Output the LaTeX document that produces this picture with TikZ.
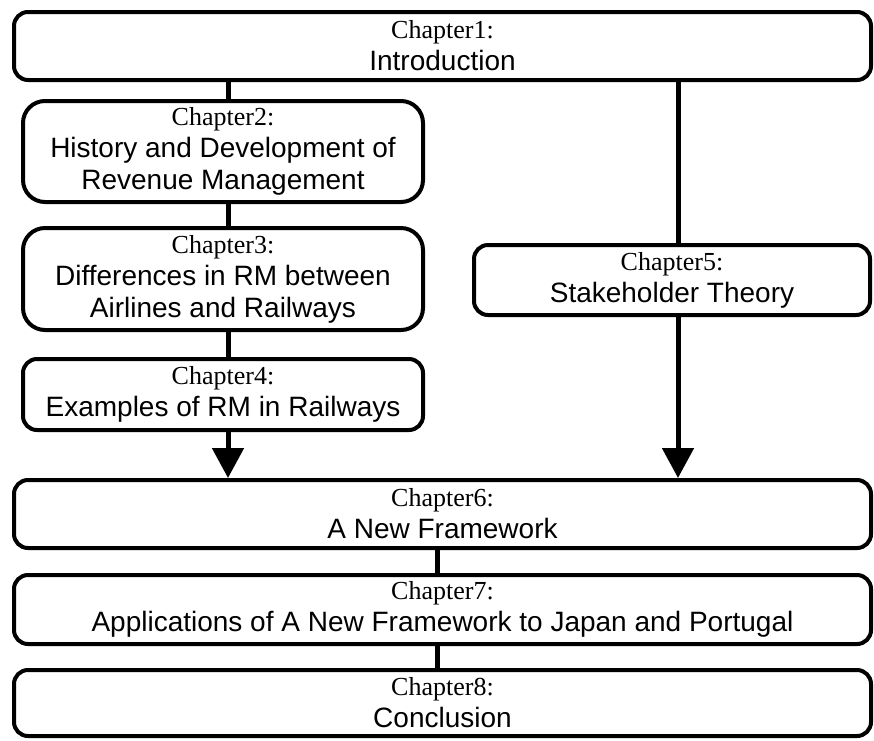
\documentclass[tikz,border=0pt]{standalone}
\usepackage{fontspec}
\setmainfont{Liberation Sans}
\newfontfamily\chapfont{Liberation Serif}
\usetikzlibrary{arrows.meta,calc}

\tikzset{
  box/.style={draw, line width=4pt, rounded corners=14pt, align=center, inner sep=0pt,
    font=\fontsize{28}{32}\selectfont},
  link/.style={line width=5pt},
  arr/.style={line width=5pt, -{Triangle[width=31pt,length=30pt]}}
}
\newcommand{\chap}[1]{{\chapfont\fontsize{26}{32}\selectfont Chapter#1:}}

\begin{document}
\begin{tikzpicture}[x=1pt,y=-1pt]
\useasboundingbox (0,0) rectangle (874,740);
\coordinate (lx) at (228,0);
\coordinate (rx) at (678,0);
\coordinate (mx) at (437,0);
\node[box, minimum width=857, minimum height=68] (c1) at (442.5,46) {\chap{1}\\Introduction};
\node[box, rounded corners=22pt, minimum width=400, minimum height=101] (c2) at (223,151.5)
  {\chap{2}\\History and Development of\\Revenue Management};
\node[box, rounded corners=22pt, minimum width=400, minimum height=102] (c3) at (223,279)
  {\chap{3}\\Differences in RM between\\Airlines and Railways};
\node[box, minimum width=400, minimum height=71] (c4) at (223,394.5) {\chap{4}\\Examples of RM in Railways};
\node[box, minimum width=396, minimum height=70] (c5) at (672,280) {\chap{5}\\Stakeholder Theory};
\node[box, minimum width=857, minimum height=68] (c6) at (442.5,514) {\chap{6}\\A New Framework};
\node[box, minimum width=857, minimum height=69] (c7) at (442.5,609.5)
  {\chap{7}\\Applications of A New Framework to Japan and Portugal};
\node[box, minimum width=857, minimum height=66] (c8) at (442.5,703) {\chap{8}\\Conclusion};
% left column
\draw[link] (c1.south -| lx) -- (c2.north -| lx);
\draw[link] (c2.south -| lx) -- (c3.north -| lx);
\draw[link] (c3.south -| lx) -- (c4.north -| lx);
\draw[arr] (c4.south -| lx) -- (c6.north -| lx);
% right column
\draw[link] (c1.south -| rx) -- (c5.north -| rx);
\draw[arr] (c5.south -| rx) -- (c6.north -| rx);
\draw[link] (c6.south -| mx) -- (c7.north -| mx);
\draw[link] (c7.south -| mx) -- (c8.north -| mx);
\end{tikzpicture}
\end{document}
